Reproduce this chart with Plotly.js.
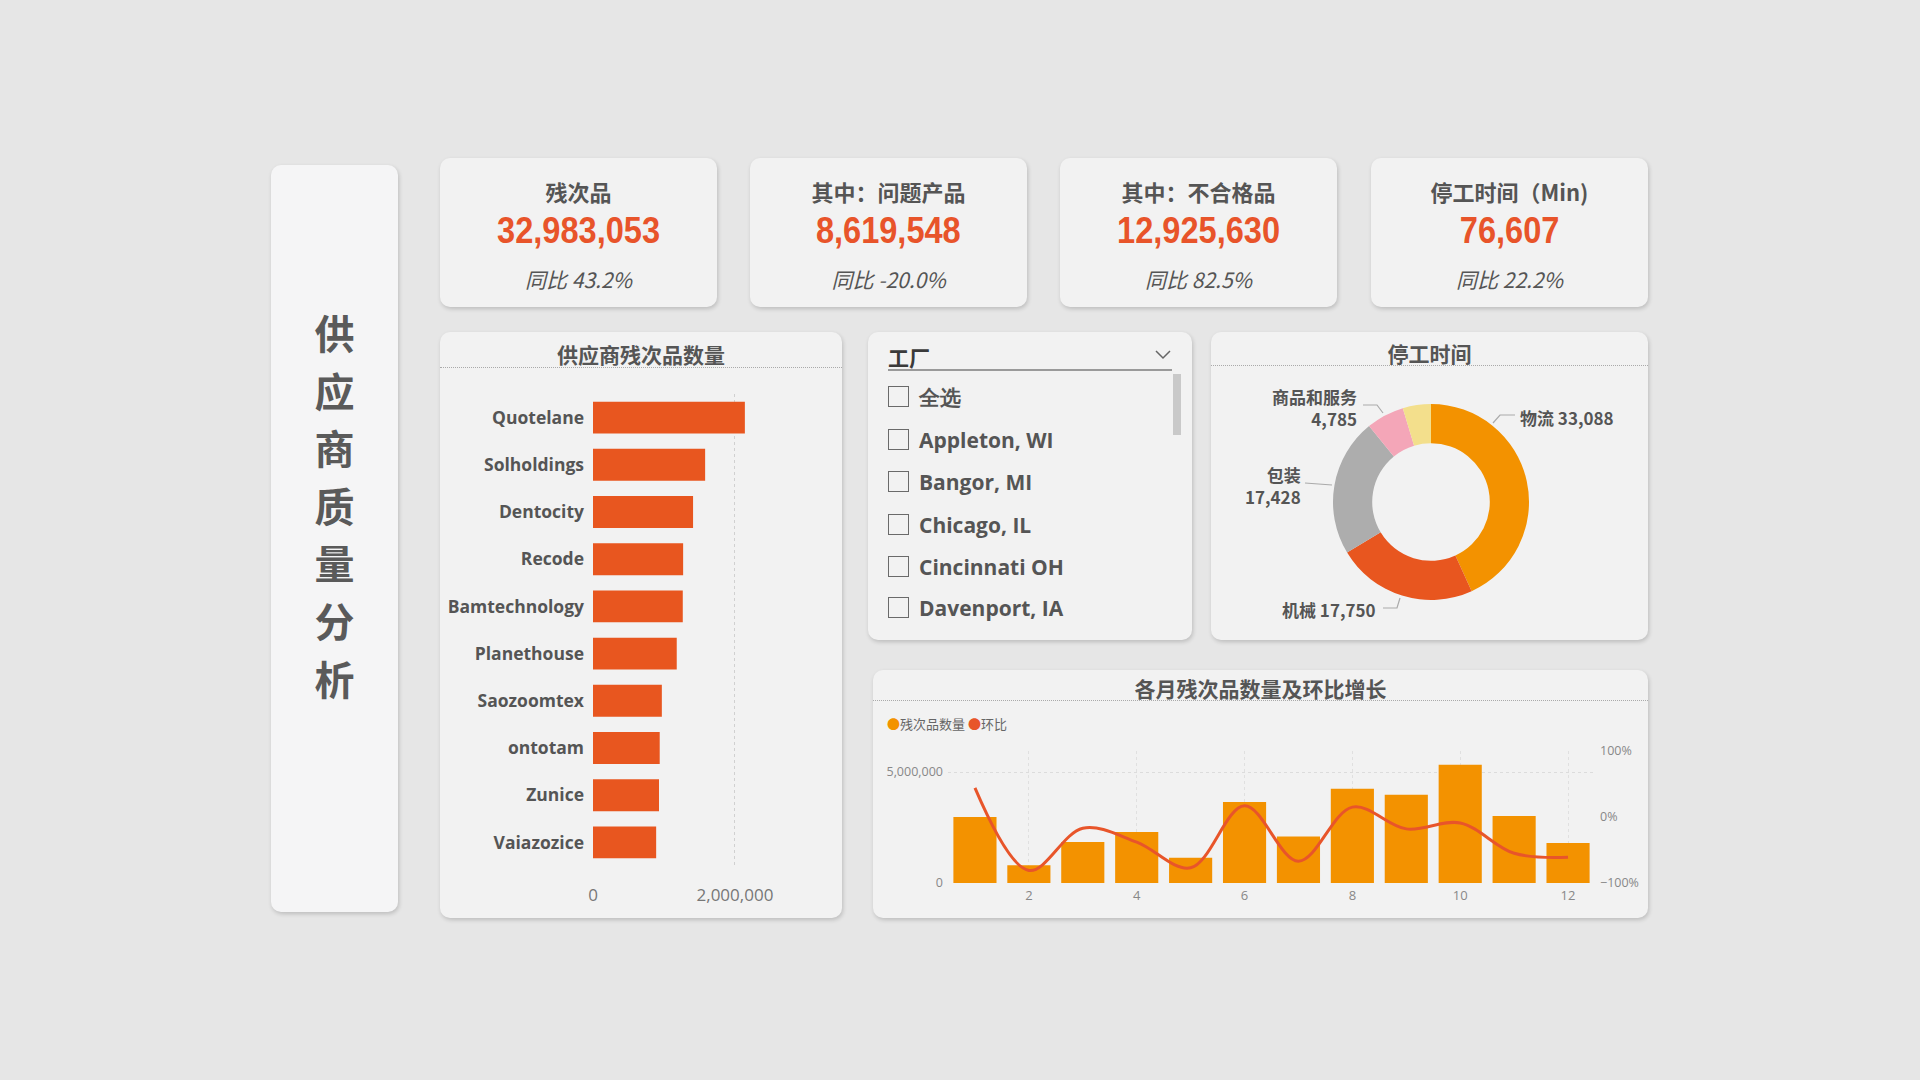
<!DOCTYPE html>
<html><head><meta charset="utf-8">
<script src="https://cdn.plot.ly/plotly-3.0.1.min.js"></script>
<style>
body{margin:0;width:1920px;height:1080px;background:#E6E6E6;position:relative;overflow:hidden;font-family:"Noto Sans CJK SC","Open Sans",sans-serif;}
.card{position:absolute;background:#F2F2F2;border-radius:10px;box-shadow:1px 2px 4px rgba(0,0,0,0.18);}
.abs{position:absolute;}
.ctitle{position:absolute;left:0;width:100%;text-align:center;font-size:21px;font-weight:700;color:#555;height:30px;line-height:30px;}
.sep{position:absolute;left:0;width:100%;border-top:1.5px dotted #aaa;}
.kt{position:absolute;left:0;width:100%;text-align:center;font-size:22px;font-weight:700;color:#555;top:18px;height:30px;line-height:30px;}
.kv{position:absolute;left:0;width:100%;text-align:center;top:48px;height:50px;line-height:50px;}
.kv span{display:inline-block;font-family:"Liberation Sans",Arial,sans-serif;font-weight:700;font-size:37px;color:#E8542A;transform:scaleX(0.88);transform-origin:center;}
.ky{position:absolute;left:0;width:100%;text-align:center;font-size:21px;font-style:italic;color:#555;top:106px;height:30px;line-height:30px;}
.item{position:absolute;left:20px;height:30px;line-height:30px;font-family:"Open Sans",sans-serif;font-weight:700;font-size:21px;color:#555;}
.box{position:absolute;left:0;top:4px;width:19px;height:19px;border:1.5px solid #6a6a6a;}
.item span{position:absolute;left:31px;white-space:nowrap;}
</style></head>
<body>
<div class="card" style="left:271px;top:165px;width:127px;height:747px;background:#F5F5F6;">
  <div id="sideTitle" class="abs" style="left:0;top:139px;width:127px;text-align:center;font-size:40px;font-weight:700;line-height:57.6px;color:#5a5a5a;"></div>
</div>
<div id="kpis"></div>

<div class="card" style="left:440px;top:332px;width:402px;height:586px;">
  <div class="ctitle" id="barTitle" style="top:7px;"></div>
  <div class="sep" style="top:35px;"></div>
  <div id="barChart" class="abs" style="left:0;top:0;width:402px;height:586px;"></div>
</div>

<div class="card" style="left:868px;top:332px;width:324px;height:308px;">
  <div id="slicerTitle" class="abs" style="left:20px;top:10px;font-size:21px;font-weight:700;color:#3a3a3a;line-height:30px;"></div>
  <svg class="abs" style="left:287px;top:18px;" width="16" height="10"><polyline points="1,1 8,8 15,1" fill="none" stroke="#666" stroke-width="1.5"/></svg>
  <div class="abs" style="left:20px;top:37px;width:284px;height:2px;background:#9a9a9a;"></div>
  <div class="abs" style="left:305px;top:42px;width:8px;height:61px;background:#c9c9c9;"></div>
  <div id="slicerItems"></div>
</div>

<div class="card" style="left:1211px;top:332px;width:437px;height:308px;">
  <div class="ctitle" id="pieTitle" style="top:6px;"></div>
  <div class="sep" style="top:33px;"></div>
  <div id="pieChart" class="abs" style="left:0;top:0;width:437px;height:308px;"></div>
</div>

<div class="card" style="left:873px;top:670px;width:775px;height:248px;">
  <div class="ctitle" id="comboTitle" style="top:3px;"></div>
  <div class="sep" style="top:30px;"></div>
  <div id="comboChart" class="abs" style="left:0;top:0;width:775px;height:248px;"></div>
</div>

<script>
// ---------- data ----------
const sideTitle = '供应商质量分析';
const kpiTitles = ['残次品', '其中：问题产品', '其中：不合格品', '停工时间（Min)'];
const kpiValues = [32983053, 8619548, 12925630, 76607];
const kpiYoY = ['43.2%', '-20.0%', '82.5%', '22.2%'];

const barTitle = '供应商残次品数量';
const suppliers = ['Quotelane','Solholdings','Dentocity','Recode','Bamtechnology','Planethouse','Saozoomtex','ontotam','Zunice','Vaiazozice'];
const supplierDefects = [2140000,1580000,1410000,1270000,1265000,1180000,970000,940000,930000,890000];

const slicerTitle = '工厂';
const plants = ['全选','Appleton, WI','Bangor, MI','Chicago, IL','Cincinnati OH','Davenport, IA'];

const pieTitle = '停工时间';
const downtimeCats = ['物流','机械','包装','商品和服务','其他'];
const downtimeVals = [33088,17750,17428,4785,3556];

const comboTitle = '各月残次品数量及环比增长';
const months = [1,2,3,4,5,6,7,8,9,10,11,12];
const monthDefects = [2970000,800000,1850000,2300000,1140000,3650000,2100000,4250000,3980000,5330000,3020000,1800000];
const momGrowth = [0.44,-0.81,-0.17,-0.38,-0.77,0.17,-0.67,0.15,-0.18,-0.09,-0.55,-0.61];

// ---------- helpers ----------
const fmt = n => n.toLocaleString('en-US');
const cfg = {displayModeBar:false, staticPlot:true};
const GREY = '#555';

document.getElementById('sideTitle').innerHTML = sideTitle.split('').join('<br>');

const kpiLeft = [440, 750, 1060, 1371];
let kh = '';
kpiTitles.forEach((t,i)=>{
  kh += `<div class="card" style="left:${kpiLeft[i]}px;top:158px;width:277px;height:149px;">
    <div class="kt">${t}</div><div class="kv"><span>${fmt(kpiValues[i])}</span></div><div class="ky">同比 ${kpiYoY[i]}</div></div>`;
});
document.getElementById('kpis').innerHTML = kh;

document.getElementById('barTitle').textContent = barTitle;
document.getElementById('pieTitle').textContent = pieTitle;
document.getElementById('comboTitle').textContent = comboTitle;
document.getElementById('slicerTitle').textContent = slicerTitle;

const itemCenters = [65,108,150,193,235,276];
document.getElementById('slicerItems').innerHTML = plants.map((p,i)=>
  `<div class="item" style="top:${itemCenters[i]-15}px;"><div class="box"></div><span>${p}</span></div>`).join('');

// ---------- bar chart ----------
Plotly.newPlot('barChart', [{
  type:'bar', orientation:'h', y:suppliers, x:supplierDefects,
  marker:{color:'#E8561F'}, hoverinfo:'none'
}], {
  width:402, height:586, margin:{l:153, r:29, t:62, b:52},
  paper_bgcolor:'rgba(0,0,0,0)', plot_bgcolor:'rgba(0,0,0,0)',
  bargap:0.325, showlegend:false,
  xaxis:{range:[0,3100000], tickvals:[0,2000000], tickformat:',', showgrid:true, gridcolor:'#d0d0d0', griddash:'dot',
         zeroline:false, showline:false, ticks:'', tickfont:{family:'Open Sans', size:17, color:'#777'}, ticklabelstandoff:17, fixedrange:true},
  yaxis:{autorange:'reversed', ticks:'', showgrid:false, zeroline:false, showline:false,
         tickfont:{family:'Open Sans', size:17.5, color:GREY, weight:700}, ticklabelstandoff:8, fixedrange:true}
}, cfg);

// ---------- donut ----------
const W=437, H=308;
const lbl = i => `${downtimeCats[i]} ${fmt(downtimeVals[i])}`;
const lbl2 = i => `${downtimeCats[i]}<br>${fmt(downtimeVals[i])}`;
const lf = {family:'Noto Sans CJK SC', size:17, color:GREY, weight:700};
const leaders = [
  [[304,83],[289,83],[282,91]],
  [[172,276],[186,276],[189,266]],
  [[94,151],[121,153]],
  [[152,73],[166,73],[172,81]]
];
Plotly.newPlot('pieChart', [{
  type:'pie', labels:downtimeCats, values:downtimeVals, hole:0.6, sort:false, direction:'clockwise', rotation:0,
  marker:{colors:['#F39200','#E8561F','#ADADAD','#F4A6B8','#F3DF8C'], line:{width:0}},
  textinfo:'none', hoverinfo:'none',
  domain:{x:[122/W, 318/W], y:[1-268/H, 1-72/H]}
}], {
  width:W, height:H, margin:{l:0,r:0,t:0,b:0}, showlegend:false,
  paper_bgcolor:'rgba(0,0,0,0)', plot_bgcolor:'rgba(0,0,0,0)',
  xaxis:{range:[0,W], visible:false, fixedrange:true}, yaxis:{range:[H,0], visible:false, fixedrange:true},
  annotations:[
    {x:307, y:85, text:lbl(0), showarrow:false, xanchor:'left', yanchor:'middle', font:lf},
    {x:167, y:277, text:lbl(1), showarrow:false, xanchor:'right', yanchor:'middle', font:lf},
    {x:92, y:153, text:lbl2(2), showarrow:false, xanchor:'right', yanchor:'middle', align:'right', font:lf},
    {x:148, y:75, text:lbl2(3), showarrow:false, xanchor:'right', yanchor:'middle', align:'right', font:lf}
  ],
  shapes: leaders.map(pts=>({type:'path', xref:'x', yref:'y', path:'M'+pts.map(p=>p.join(',')).join(' L'), line:{color:'#aaa', width:1.2}}))
}, cfg);

// ---------- combo ----------
const cl=75, cr=53, ct=81, cb=35, CW=775, CH=248;
const pw = CW-cl-cr, ph = CH-ct-cb;
Plotly.newPlot('comboChart', [
  {type:'bar', x:months, y:monthDefects, name:'残次品数量', marker:{color:'#F39200'}, hoverinfo:'none'},
  {type:'scatter', mode:'lines', x:months, y:momGrowth, name:'环比', yaxis:'y2',
   line:{color:'#E8552A', width:3, shape:'spline', smoothing:1}, hoverinfo:'none'}
], {
  width:CW, height:CH, margin:{l:cl, r:cr, t:ct, b:cb}, showlegend:false, bargap:0.2,
  paper_bgcolor:'rgba(0,0,0,0)', plot_bgcolor:'rgba(0,0,0,0)',
  xaxis:{range:[0.5,12.5], tick0:0, dtick:2, ticks:'', showgrid:true, gridcolor:'#e0e0e0', griddash:'dot', zeroline:false,
         tickfont:{family:'Open Sans', size:13, color:'#888'}, ticklabelstandoff:3, fixedrange:true},
  yaxis:{range:[0,5950000], tickvals:[0,5000000], tickformat:',', showgrid:true, gridcolor:'#dcdcdc', griddash:'dot',
         zeroline:false, ticks:'', tickfont:{family:'Open Sans', size:12.5, color:'#888'}, ticklabelstandoff:4, fixedrange:true},
  yaxis2:{overlaying:'y', side:'right', range:[-1,1], tickvals:[-1,0,1], tickformat:'.0%', showgrid:false, zeroline:false,
          ticks:'', tickfont:{family:'Open Sans', size:12.5, color:'#888'}, ticklabelstandoff:4, fixedrange:true},
  annotations:[{xref:'paper', yref:'paper', x:(12-cl)/pw, y:1-(53-ct)/ph, xanchor:'left', yanchor:'middle', showarrow:false,
     text:`<span style="color:#F39200">●</span>${'残次品数量'} <span style="color:#E8552A">●</span>${'环比'}`,
     font:{family:'Noto Sans CJK SC', size:13, color:'#666'}}]
}, cfg);
</script>
</body></html>
